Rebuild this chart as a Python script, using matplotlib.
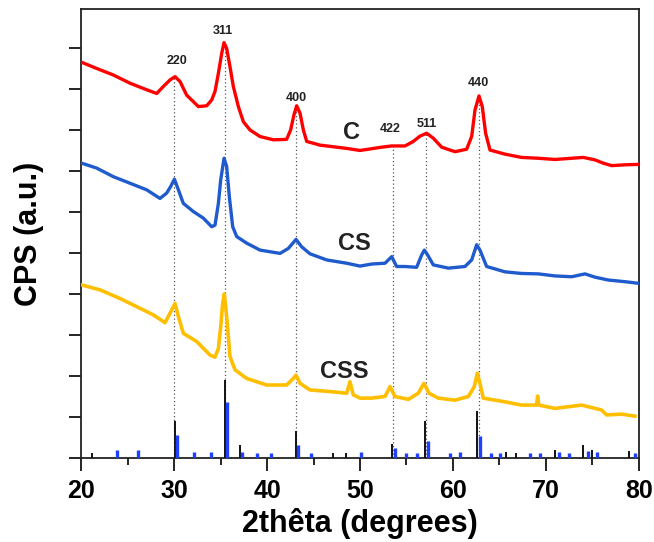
import numpy as np
import matplotlib
matplotlib.use('Agg')
import matplotlib.pyplot as plt

plt.rcParams['font.family'] = ['Liberation Sans', 'DejaVu Sans']

# XRD patterns (2theta in degrees, intensity in counts)
c_x = [20.07, 21.68, 23.48, 25.27, 27.06, 28.14, 28.85, 29.57, 30.11, 30.65, 31.36, 32.08,
       32.62, 33.51, 34.05, 34.41, 34.77, 35.13, 35.38, 35.66, 36.02, 36.38, 36.92, 37.46,
       38.17, 39.25, 40.68, 42.11, 42.54, 42.90, 43.19, 43.55, 43.91, 44.27, 45.70, 48.57,
       50.00, 50.89, 52.33, 53.41, 54.84, 55.73, 56.45, 57.17, 57.88, 58.78, 60.22, 61.47,
       62.01, 62.37, 62.80, 63.15, 63.51, 63.98, 65.59, 67.38, 69.17, 70.97, 72.76, 74.02,
       75.27, 76.16, 77.06, 78.49, 79.93]
c_y = [965, 950, 934, 914, 898, 889, 906, 922, 930, 918, 885, 869,
       857, 859, 873, 894, 938, 987, 1013, 999, 954, 906, 857, 820,
       800, 784, 776, 777, 800, 837, 859, 841, 800, 772, 763, 755,
       750, 753, 758, 761, 761, 772, 785, 792, 780, 758, 747, 753,
       784, 849, 883, 857, 792, 751, 741, 733, 731, 728, 731, 733,
       727, 719, 713, 715, 716]

cs_x = [20.07, 21.68, 23.48, 25.27, 27.06, 28.49, 29.21, 29.64, 30.04, 30.47, 31.00, 32.08,
        33.15, 34.05, 34.41, 34.77, 35.02, 35.38, 35.66, 35.95, 36.31, 36.74, 37.81, 39.25,
        41.40, 42.29, 43.12, 43.73, 44.62, 46.42, 48.57, 50.00, 51.25, 52.69, 53.41, 53.94,
        54.84, 56.09, 56.63, 56.92, 57.28, 57.88, 59.50, 61.29, 62.01, 62.55, 62.90, 63.62,
        65.59, 67.38, 69.17, 70.97, 72.76, 74.20, 75.27, 76.70, 78.49, 79.93]
cs_y = [719, 707, 686, 670, 654, 633, 646, 662, 680, 654, 621, 601,
        585, 564, 568, 621, 678, 731, 711, 637, 564, 540, 524, 507,
        499, 511, 533, 515, 498, 483, 475, 468, 473, 475, 491, 467,
        467, 465, 495, 507, 495, 471, 463, 467, 483, 520, 507, 467,
        454, 450, 449, 444, 442, 449, 441, 434, 430, 426]

css_x = [20.07, 22.04, 24.19, 25.99, 27.78, 29.03, 29.57, 30.11, 30.47, 31.00, 32.44, 33.87,
         34.41, 34.77, 35.02, 35.23, 35.41, 35.66, 36.02, 36.56, 37.81, 39.96, 42.11, 42.83,
         43.12, 43.55, 44.62, 46.77, 48.57, 48.92, 49.28, 50.00, 51.25, 52.69, 53.23, 53.76,
         55.20, 56.27, 56.88, 57.42, 58.42, 60.22, 61.65, 62.29, 62.62, 62.90, 63.26, 65.59,
         67.38, 68.99, 69.10, 69.24, 70.97, 73.84, 75.99, 76.52, 78.14, 79.57]
css_y = [422, 410, 389, 369, 349, 330, 353, 377, 345, 304, 284, 251,
         246, 267, 320, 377, 400, 345, 247, 215, 194, 178, 178, 194,
         202, 182, 166, 162, 158, 186, 154, 146, 146, 150, 174, 150,
         143, 158, 182, 158, 146, 141, 150, 174, 207, 182, 146, 137,
         129, 129, 151, 129, 121, 129, 117, 105, 107, 102]

# reference pattern sticks
ref_black_x = [21.15, 30.1, 35.45, 37.06, 43.08, 47.1, 48.46, 53.44, 56.95, 62.54,
               65.73, 66.77, 70.93, 73.95, 74.98, 78.92]
ref_black_h = [12, 89, 190, 32, 67, 12, 12, 34, 89, 115, 15, 12, 20, 31, 20, 17]
ref_blue_x = [23.8, 26.1, 30.25, 32.15, 33.9, 35.67, 37.28, 38.9, 40.4, 43.3, 44.73,
              50.07, 53.73, 54.95, 56.13, 57.28, 59.6, 60.68, 62.9, 64.0, 65.05, 68.25,
              69.3, 71.4, 72.44, 74.48, 75.48, 79.5]
ref_blue_h = [19, 19, 56, 15, 15, 137, 15, 12, 12, 32, 12, 15, 24, 12, 12, 41, 12, 15,
              54, 12, 12, 12, 12, 15, 12, 17, 15, 12]

# hkl labels
hkl = ['220', '311', '400', '422', '511', '440']
hkl_pos = [30.05, 35.45, 43.15, 53.58, 57.1, 62.8]
hkl_top = [930, 1013, 859, 761, 792, 883]
hkl_lab_x = [30.3, 35.3, 43.1, 53.3, 57.2, 62.7]
hkl_lab_y = [969, 1042, 878, 803, 815, 915]

fig = plt.figure(figsize=(6.54, 5.42), dpi=100)
ax = fig.add_axes([0.1239, 0.155, 0.8531, 0.8284])

for xp, top in zip(hkl_pos, hkl_top):
    ax.vlines(xp, 0, top, colors='#555555', linestyles=(0, (1, 2)), linewidth=0.9, zorder=1)

ax.plot(c_x, c_y, color='#ff0000', linewidth=2.4, zorder=3)
ax.plot(cs_x, cs_y, color='#1f5bcc', linewidth=2.4, zorder=3)
ax.plot(css_x, css_y, color='#ffbf00', linewidth=2.6, zorder=3)

ax.vlines(ref_black_x, 0, ref_black_h, colors='#111111', linewidth=1.4, zorder=4)
ax.vlines([v + 0.05 for v in ref_blue_x], 0, ref_blue_h, colors='#2040ff', linewidth=2.4, zorder=4)

for lab, lx, ly in zip(hkl, hkl_lab_x, hkl_lab_y):
    ax.text(lx, ly, lab, ha='center', va='center', fontsize=9, fontweight='bold', color='#222222')

ax.text(49.14, 795, 'C', ha='center', va='center', fontsize=17, fontweight='bold', color='#222222')
ax.text(49.35, 524, 'CS', ha='center', va='center', fontsize=17, fontweight='bold', color='#222222')
ax.text(48.28, 210, 'CSS', ha='center', va='center', fontsize=17, fontweight='bold', color='#222222')

ax.set_xlim(20, 80)
ax.set_ylim(0, 1095)
ax.set_xticks(np.arange(20, 81, 10))
ax.set_xticks(np.arange(25, 80, 10), minor=True)
ax.set_yticks(np.arange(0, 1001, 100))
ax.set_yticklabels([])
ax.tick_params(axis='x', which='major', direction='out', length=9, width=1.2, labelsize=18, pad=6)
ax.tick_params(axis='x', which='minor', direction='out', length=5, width=1.2)
ax.tick_params(axis='y', direction='out', length=9, width=1.2)
for lab in ax.get_xticklabels():
    lab.set_fontweight('bold')
for sp in ax.spines.values():
    sp.set_linewidth(1.3)
    sp.set_color('#222222')

ax.set_xlabel('2thêta (degrees)', fontsize=22, fontweight='bold', labelpad=4)
ax.set_ylabel('CPS (a.u.)', fontsize=22, fontweight='bold', labelpad=14)

plt.savefig('out.png', dpi=100)
